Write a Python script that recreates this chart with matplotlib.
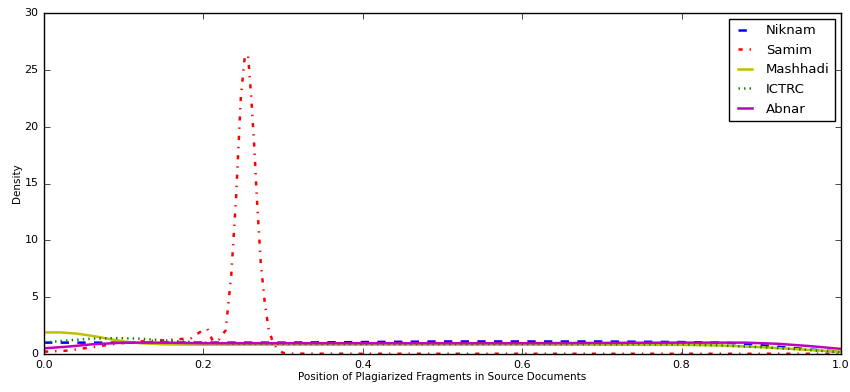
import matplotlib
matplotlib.use("Agg")
import matplotlib.pyplot as plt

# ---- data ----
niknam_x = [0.0, 0.05, 0.1, 0.2, 0.3, 0.4, 0.5, 0.6, 0.7, 0.8, 0.85, 0.88, 0.92, 0.96, 1.0]
niknam_y = [1.0, 1.0, 1.0, 1.0, 1.0, 1.05, 1.1, 1.1, 1.1, 1.05, 1.0, 0.9, 0.65, 0.4, 0.2]

samim_x = [0.0, 0.03, 0.06, 0.09, 0.12, 0.15, 0.17, 0.185, 0.195, 0.205, 0.212,
           0.22, 0.228, 0.235, 0.241, 0.247, 0.252, 0.256, 0.260, 0.264, 0.267,
           0.272, 0.277, 0.282, 0.288, 0.295, 0.30, 0.31, 0.4, 0.6, 0.8, 1.0]
samim_y = [0.2, 0.3, 0.6, 0.9, 1.1, 1.2, 1.3, 1.4, 1.9, 2.2, 1.1,
           1.3, 2.1, 7.0, 13.8, 22.6, 26.2, 26.3, 22.6, 18.0, 13.8,
           8.0, 4.5, 2.1, 0.9, 0.3, 0.1, 0.03, 0.02, 0.02, 0.02, 0.02]

mashhadi_x = [0.0, 0.02, 0.04, 0.06, 0.08, 0.1, 0.12, 0.15, 0.2, 0.4, 0.6, 0.8, 0.85, 0.9, 0.95, 1.0]
mashhadi_y = [1.9, 1.9, 1.8, 1.6, 1.35, 1.1, 0.95, 0.85, 0.82, 0.82, 0.82, 0.8, 0.75, 0.6, 0.4, 0.2]

ictrc_x = [0.0, 0.03, 0.06, 0.09, 0.12, 0.15, 0.2, 0.25, 0.4, 0.6, 0.8, 0.85, 0.9, 0.95, 1.0]
ictrc_y = [1.0, 1.2, 1.35, 1.4, 1.35, 1.2, 1.0, 0.9, 0.88, 0.88, 0.85, 0.75, 0.6, 0.4, 0.15]

abnar_x = [0.0, 0.03, 0.06, 0.1, 0.15, 0.2, 0.4, 0.6, 0.8, 0.88, 0.92, 0.96, 1.0]
abnar_y = [0.5, 0.65, 0.85, 1.0, 1.0, 0.95, 0.95, 0.95, 1.0, 1.0, 0.9, 0.7, 0.45]

plt.style.use("classic")
plt.rcParams["figure.facecolor"] = "white"

fig = plt.figure(figsize=(8.5, 3.92), dpi=100)
ax = fig.add_axes([44 / 850, 38 / 392, 797 / 850, 341 / 392])

ax.plot(niknam_x, niknam_y, "b--", lw=1.8, label="Niknam")
ax.plot(samim_x, samim_y, "r-.", lw=1.8, label="Samim")
ax.plot(mashhadi_x, mashhadi_y, "y-", lw=1.8, label="Mashhadi")
ax.plot(ictrc_x, ictrc_y, "g:", lw=1.8, label="ICTRC")
ax.plot(abnar_x, abnar_y, "m-", lw=1.8, label="Abnar")

ax.set_xlim(0, 1)
ax.set_ylim(0, 30)
ax.tick_params(labelsize=8)
ax.set_xlabel("Position of Plagiarized Fragments in Source Documents", fontsize=7.5, labelpad=2)
ax.set_ylabel("Density", fontsize=7.5, labelpad=1.5)
ax.legend(loc="upper right", fontsize=9.5, handlelength=1.6, borderaxespad=0.45)

fig.savefig("out.png", dpi=100, facecolor="white")
